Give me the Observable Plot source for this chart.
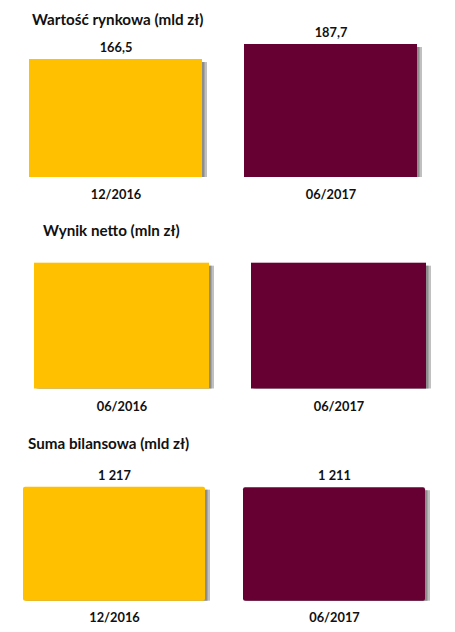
<!DOCTYPE html>
<html>
<head>
<meta charset="utf-8">
<script src="https://cdn.jsdelivr.net/npm/d3@7"></script>
<script src="https://cdn.jsdelivr.net/npm/@observablehq/plot@0.6"></script>
<style>
  body { margin: 0; background: #fff; }
  #wrap { position: relative; width: 455px; height: 632px; overflow: hidden; font-family: Lato, "Open Sans", sans-serif; }
  .panel { position: absolute; left: 0; }
  .ttl { position: absolute; font-weight: bold; font-size: 15.2px; color: #111; white-space: nowrap; line-height: 1; }
</style>
</head>
<body>
<div id="wrap"></div>
<script>
// ---- data ----
const titles = ["Wartość rynkowa (mld zł)", "Wynik netto (mln zł)", "Suma bilansowa (mld zł)"];
const cats1 = ["12/2016", "06/2017"];
const vals1 = [166.5, 187.7];
const labels1 = ["166,5", "187,7"];

const cats2 = ["06/2016", "06/2017"];
const vals2 = [1, 1];          // no values shown in the picture; both bars equal height
const labels2 = ["", ""];

const cats3 = ["12/2016", "06/2017"];
const vals3 = [1217, 1211];
const labels3 = ["1 217", "1 211"];

const colors = ["#FFC000", "#660033"];

const wrap = document.getElementById("wrap");

function panel({top, cats, vals, labels, yDomainMax, yRange, xRange, padIn, valDy, catDy, rx, titleLeft, titleTop, title}) {
  const data = cats.map((c, i) => ({cat: c, v: vals[i], lab: labels[i], col: colors[i]}));
  const chart = Plot.plot({
    width: 455,
    height: 210,
    margin: 0,
    style: {fontFamily: "Lato, 'Open Sans', sans-serif", fontWeight: "bold", fontSize: "12.8px", color: "#111", background: "transparent"},
    x: {domain: cats, range: xRange, paddingInner: padIn, paddingOuter: 0, axis: null},
    y: {domain: [0, yDomainMax], range: yRange, axis: null},
    color: {type: "identity"},
    marks: [
      Plot.barY(data, {x: "cat", y: "v", fill: "#b0b0b0", fillOpacity: 0.8, dx: 4.5, insetTop: 3, insetRight: -0.5}),
      Plot.barY(data, {x: "cat", y: "v", fill: "#808080", fillOpacity: 0.8, dx: 2.5, insetTop: 3, insetRight: 0}),
      Plot.barY(data, {x: "cat", y: "v", fill: "col", rx: rx}),
      Plot.text(data, {x: "cat", y: "v", text: "lab", dy: valDy, fill: "#111"}),
      Plot.text(data, {x: "cat", y: 0, text: "cat", dy: catDy, fill: "#111"})
    ]
  });
  chart.classList.add("panel");
  chart.style.top = top + "px";
  wrap.appendChild(chart);
  const t = document.createElement("div");
  t.className = "ttl";
  t.textContent = title;
  t.style.left = titleLeft + "px";
  t.style.top = titleTop + "px";
  wrap.appendChild(t);
}

panel({top: 0, cats: cats1, vals: vals1, labels: labels1, yDomainMax: 187.7, yRange: [177, 44],
       xRange: [28, 418], padIn: 0.194, valDy: -12, catDy: 17, rx: 0,
       titleLeft: 32, titleTop: 12, title: titles[0]});
panel({top: 210, cats: cats2, vals: vals2, labels: labels2, yDomainMax: 1, yRange: [178.5, 52.7],
       xRange: [34, 427], padIn: 0.193, valDy: -12, catDy: 17.5, rx: 0,
       titleLeft: 43, titleTop: 223, title: titles[1]});
panel({top: 422, cats: cats3, vals: vals3, labels: labels3, yDomainMax: 1217, yRange: [178.7, 64.7],
       xRange: [23, 425], padIn: 0.173, valDy: -11.5, catDy: 17, rx: 2,
       titleLeft: 28, titleTop: 436, title: titles[2]});
</script>
</body>
</html>
